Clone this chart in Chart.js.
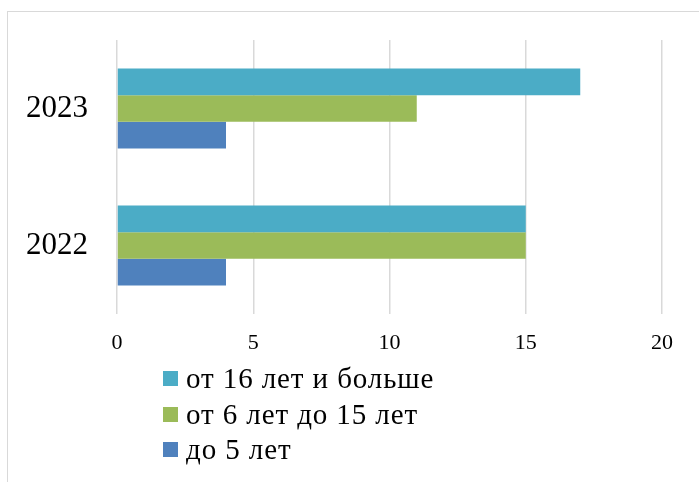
<!DOCTYPE html>
<html>
<head>
<meta charset="utf-8">
<script src="https://cdn.jsdelivr.net/npm/chart.js@4/dist/chart.umd.min.js"></script>
<style>
    html, body { margin: 0; padding: 0; background: #fff; }
    body { width: 699px; height: 482px; position: relative; overflow: hidden; font-family: 'Liberation Serif', 'Times New Roman', serif; }
    .frame { position: absolute; left: 7px; top: 11px; width: 720px; height: 500px; border: 1.5px solid #d9d9d9; box-sizing: border-box; }
    #chartBox { position: absolute; left: 0; top: 0; width: 699px; height: 482px; }
    #legend { position: absolute; left: 163px; top: 361px; }
    .leg-item { display: flex; align-items: center; height: 35.5px; font-size: 29px; letter-spacing: 0.9px; color: #000; }
    .leg-box { width: 15px; height: 15px; margin-right: 8px; }
</style>
</head>
<body>
<div class="frame"></div>
<div id="chartBox"><canvas id="chart"></canvas></div>
<div id="legend"></div>
<script>
// Age groups per year
const years = ['2023', '2022'];
const seriesNames = ['от 16 лет и больше', 'от 6 лет до 15 лет', 'до 5 лет'];
const over16 = [17, 15];
const from6to15 = [11, 15];
const under5 = [4, 4];
const colors = ['#4bacc6', '#9bbb59', '#4f81bd'];
const xTicks = [0, 5, 10, 15, 20];

const serif = "'Liberation Serif', 'Times New Roman', serif";

const datasets = [over16, from6to15, under5].map((vals, i) => ({
    label: seriesNames[i],
    data: vals,
    backgroundColor: colors[i],
    borderWidth: 0,
    barPercentage: 1,
    categoryPercentage: 0.584
}));

const chart = new Chart(document.getElementById('chart'), {
    type: 'bar',
    data: { labels: years, datasets },
    options: {
        indexAxis: 'y',
        responsive: true,
        maintainAspectRatio: false,
        animation: false,
        layout: { padding: { left: 0, top: 40, right: 37, bottom: 118 } },
        plugins: {
            legend: { display: false },
            tooltip: { enabled: false }
        },
        scales: {
            x: {
                min: xTicks[0],
                max: xTicks[xTicks.length - 1],
                afterBuildTicks: s => { s.ticks = xTicks.map(v => ({ value: v })); },
                afterFit: s => { s.height = 50; s.paddingLeft = 0; s.paddingRight = 0; },
                grid: { color: '#d9d9d9', lineWidth: 1.5, drawTicks: false },
                border: { display: false },
                ticks: { color: '#000', padding: 16, font: { family: serif, size: 22 } }
            },
            y: {
                // fixed axis width, and no extra label padding above/below the plot
                afterFit: s => { s.width = 117; s.paddingTop = 0; s.paddingBottom = 0; },
                grid: { display: false, drawTicks: false },
                border: { display: false },
                ticks: { color: '#000', padding: 29, font: { family: serif, size: 31 } }
            }
        }
    }
});

// vertical legend, one series per line
const legendEl = document.getElementById('legend');
legendEl.innerHTML = chart.data.datasets.map(ds =>
    `<div class="leg-item"><span class="leg-box" style="background:${ds.backgroundColor}"></span>${ds.label}</div>`
).join('');
</script>
</body>
</html>
